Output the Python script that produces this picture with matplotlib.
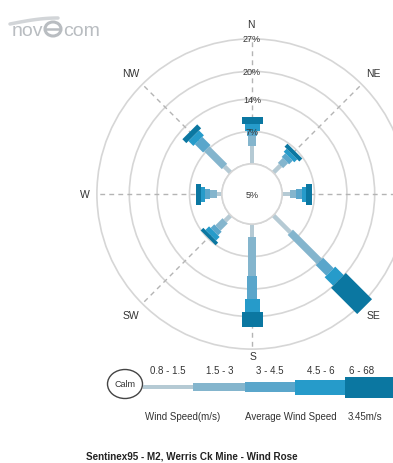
import matplotlib
matplotlib.use("Agg")
import matplotlib.pyplot as plt
from matplotlib.patches import Circle, Ellipse, Rectangle
from matplotlib.transforms import Affine2D
import numpy as np

plt.rcParams['font.family'] = ['Liberation Sans', 'DejaVu Sans']

# ---- data -------------------------------------------------------------
directions = ['N', 'NE', 'E', 'SE', 'S', 'SW', 'W', 'NW']
direction_deg = [0, 45, 90, 135, 180, 225, 270, 315]
speed_bins = ['0.8 - 1.5', '1.5 - 3', '3 - 4.5', '4.5 - 6', '6 - 68']

# frequency (%) of each speed class per direction
freq_N = [3.9, 2.2, 1.1, 1.5, 1.5]
freq_NE = [2.2, 1.5, 1.1, 0.9, 0.9]
freq_E = [1.7, 1.3, 1.3, 0.9, 1.3]
freq_SE = [5.2, 8.9, 3.2, 2.6, 8.0]
freq_S = [2.8, 8.4, 5.0, 2.8, 3.2]
freq_SW = [1.7, 2.2, 1.1, 1.1, 0.8]
freq_W = [1.1, 1.5, 1.1, 0.9, 0.9]
freq_NW = [1.9, 5.4, 2.5, 1.5, 1.2]

calm_pct = 5
ring_ticks = [7, 14, 20, 27]
avg_speed = '3.45m/s'
title = 'Sentinex95 - M2, Werris Ck Mine - Wind Rose'

freqs = [freq_N, freq_NE, freq_E, freq_SE, freq_S, freq_SW, freq_W, freq_NW]

# ---- style ------------------------------------------------------------
colors = ['#b5cad4', '#84b5cd', '#5aa6cb', '#269bca', '#0b77a1']
bar_px = [4.5, 7.5, 10.5, 15, 21]    # thickness of each speed class (px)
ring_color = '#d6d6d6'
dash_color = '#b4b4b4'
text_color = '#333333'

W, H = 393, 464
fig = plt.figure(figsize=(W / 100, H / 100), dpi=100)
ax = fig.add_axes([0, 0, 1, 1])
ax.set_xlim(0, W)
ax.set_ylim(H, 0)
ax.axis('off')

# rose frame: units are percent, origin at the rose centre, y up
cx, cy = 252, 195
calm_r = 6.5           # radius of calm circle in percent units
k = 4.63               # pixels per percent
rose = Affine2D().scale(k, -k).translate(cx, cy) + ax.transData

r_max = calm_r + ring_ticks[-1]

# rings
for t in [0] + ring_ticks:
    ax.add_patch(Circle((0, 0), calm_r + t, fill=False, ec=ring_color,
                        lw=1.2, transform=rose, zorder=1))

# dashed direction lines
for d in direction_deg:
    a = np.deg2rad(90 - d)
    ax.plot([calm_r * np.cos(a), r_max * np.cos(a)],
            [calm_r * np.sin(a), r_max * np.sin(a)],
            ls=(0, (3.5, 3)), color=dash_color, lw=1.0,
            transform=rose, zorder=2)

# stacked bars
for d, f in zip(direction_deg, freqs):
    rot = Affine2D().rotate_deg(90 - d) + rose
    start = calm_r
    for i, v in enumerate(f):
        ax.barh(0, v, left=start, height=bar_px[i] / k, color=colors[i],
                edgecolor='none', transform=rot, zorder=3 + i)
        start += v

# calm circle
ax.add_patch(Circle((0, 0), calm_r, fc='white', ec=ring_color, lw=1.2,
                    transform=rose, zorder=10))
ax.text(cx, cy + 1, f'{calm_pct}%', ha='center', va='center', fontsize=6.5,
        color=text_color, zorder=11)

# ring labels
for t in ring_ticks:
    ax.text(cx, cy - (calm_r + t) * k, f'{t}%', ha='center', va='center',
            fontsize=6.5, color=text_color, zorder=12)

# compass labels (the east label falls outside the figure and is omitted)
label_pos = {'N': (251, 25), 'S': (253, 357)}
for name, d in zip(directions, direction_deg):
    if name == 'E':
        continue
    if name in label_pos:
        px, py = label_pos[name]
    else:
        rr = 36.0 if name == 'W' else 37.0
        a = np.deg2rad(90 - d)
        px = cx + rr * k * np.cos(a)
        py = cy - rr * k * np.sin(a)
    ax.text(px, py, name, ha='center', va='center', fontsize=7.5,
            color=text_color, zorder=12)

# ---- legend -----------------------------------------------------------
ax.add_patch(Ellipse((125, 385), 35, 29, fill=False, ec='#444444', lw=1.0))
ax.text(125, 385, 'Calm', ha='center', va='center', fontsize=6.5,
        color=text_color)
seg_x = [143, 193, 245, 295, 345]
seg_w = [50, 52, 50, 50, 60]
seg_lab_x = [168, 220, 270, 321, 362]
for i in range(len(speed_bins)):
    ax.add_patch(Rectangle((seg_x[i], 388 - bar_px[i] / 2), seg_w[i],
                           bar_px[i], fc=colors[i], ec='none'))
    ax.text(seg_lab_x[i], 371, speed_bins[i], ha='center', va='center',
            fontsize=7, color=text_color)

ax.text(183, 417, 'Wind Speed(m/s)', ha='center', va='center', fontsize=7,
        color=text_color)
ax.text(291, 417, 'Average Wind Speed', ha='center', va='center',
        fontsize=7, color=text_color)
ax.text(348, 417, avg_speed, ha='left', va='center', fontsize=7,
        color=text_color)

ax.text(192, 457, title, ha='center', va='center', fontsize=7.1,
        fontweight='bold', color='#222222')

# ---- logo -------------------------------------------------------------
logo_c = '#b9bdc1'
ax.text(12, 36, 'nov', ha='left', va='baseline', fontsize=14,
        color=logo_c)
ax.add_patch(Ellipse((53, 30), 16, 14, fill=False, ec=logo_c, lw=2.2))
ax.plot([46, 60], [30, 30], color=logo_c, lw=1.8)
ax.text(63, 36, 'com', ha='left', va='baseline', fontsize=14,
        color=logo_c)
xs = np.linspace(10, 58, 30)
ax.plot(xs, 25 - 6 * np.sin((xs - 10) / 48 * np.pi / 2), color='#d2d5d8',
        lw=2.5, solid_capstyle='round')

fig.savefig('out.png', dpi=100)
